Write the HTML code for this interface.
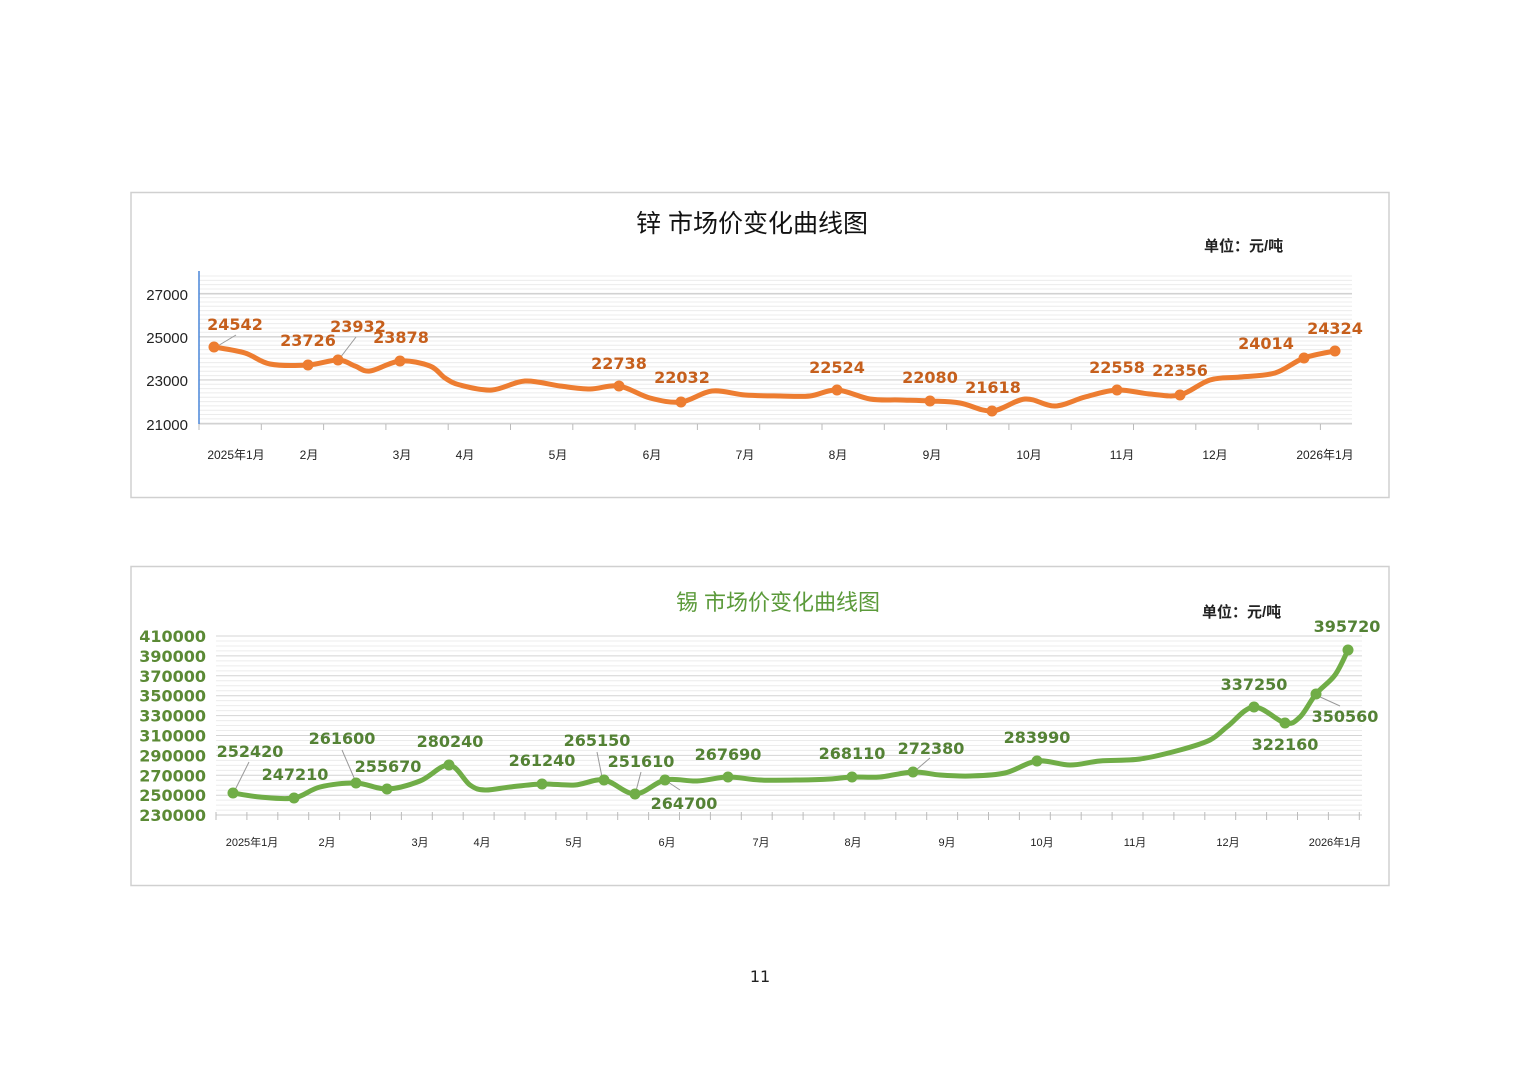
<!DOCTYPE html>
<html><head><meta charset="utf-8"><style>
html,body{margin:0;padding:0;background:#fff;}
svg text{font-family:"Liberation Sans","Noto Sans CJK SC",sans-serif;}
svg text.d{font-family:"DejaVu Sans","Liberation Sans",sans-serif;}
</style></head><body>
<svg id="s" width="1520" height="1074" xmlns="http://www.w3.org/2000/svg">
<rect x="131" y="192.5" width="1258" height="305" fill="#fff" stroke="#d0d0d0" stroke-width="1.5"/>
<rect x="131" y="566.5" width="1258" height="319" fill="#fff" stroke="#d0d0d0" stroke-width="1.5"/>
<g id="g1"></g><g id="g2"></g>
<text x="752" y="232" font-size="25" text-anchor="middle" fill="#111">锌 市场价变化曲线图</text>
<text x="1204" y="251" font-size="15" font-weight="bold" fill="#222">单位：元/吨</text>
<text x="778" y="610" font-size="22" text-anchor="middle" fill="#5b9a3a">锡 市场价变化曲线图</text>
<text x="1202" y="617" font-size="15" font-weight="bold" fill="#222">单位：元/吨</text>
<text x="760" y="982" font-size="16" text-anchor="middle" fill="#222" class="d">11</text>
</svg>
<script>
const NS="http://www.w3.org/2000/svg";
function el(p,t,a,txt){const e=document.createElementNS(NS,t);for(const k in a)e.setAttribute(k,a[k]);if(txt!==undefined)e.textContent=txt;p.appendChild(e);return e;}
function smooth(pts){let d="M"+pts[0][0]+","+pts[0][1];for(let i=0;i<pts.length-1;i++){const p0=pts[i-1]||pts[i],p1=pts[i],p2=pts[i+1],p3=pts[i+2]||p2;const c1=[p1[0]+(p2[0]-p0[0])/6,p1[1]+(p2[1]-p0[1])/6],c2=[p2[0]-(p3[0]-p1[0])/6,p2[1]-(p3[1]-p1[1])/6];d+=" C"+c1+" "+c2+" "+p2;}return d;}
const g1=document.getElementById("g1");
for(let y=276;y<=424;y+=4.33){const maj=[294,337,380,424].some(v=>Math.abs(v-y)<2);el(g1,"line",{x1:199,x2:1352,y1:y,y2:y,stroke:maj?"#d4d4d4":"#ececec","stroke-width":1});}
[[294,"27000"],[337,"25000"],[380,"23000"],[424,"21000"]].forEach(([y,t])=>{el(g1,"line",{x1:199,x2:1352,y1:y,y2:y,stroke:"#d0d0d0"});el(g1,"text",{x:188,y:y+6,"font-size":15,"text-anchor":"end",fill:"#222"},t);});
el(g1,"line",{x1:199,x2:199,y1:271,y2:424,stroke:"#4a86d8","stroke-width":1.5});
for(let x=199;x<=1352;x+=62.3)el(g1,"line",{x1:x,x2:x,y1:424,y2:430,stroke:"#bbb"});
[["2025年1月",236],["2月",309],["3月",402],["4月",465],["5月",558],["6月",652],["7月",745],["8月",838],["9月",932],["10月",1029],["11月",1122],["12月",1215],["2026年1月",1325]].forEach(([t,x])=>el(g1,"text",{x:x,y:459,"font-size":12,"text-anchor":"middle",fill:"#222"},t));
const z=[[214,347],[245,353],[270,364],[308,365],[338,360],[355,366],[370,371],[400,361],[430,366],[445,378],[460,385],[492,390],[525,381],[560,386],[590,389],[619,386],[650,398],[681,402],[712,391],[745,395],[780,396],[810,396],[837,390],[870,399],[900,400],[930,401],[960,403],[992,411],[1025,399],[1055,406],[1085,397],[1117,390],[1150,394],[1180,395],[1210,380],[1240,377],[1275,373],[1304,358],[1335,351]];
el(g1,"line",{x1:216,y1:347,x2:236,y2:335,stroke:"#999"});el(g1,"line",{x1:340,y1:358,x2:356,y2:337,stroke:"#999"});
el(g1,"path",{d:smooth(z),fill:"none",stroke:"#ED7D31","stroke-width":5,"stroke-linejoin":"round"});
[[214,347],[308,365],[338,360],[400,361],[619,386],[681,402],[837,390],[930,401],[992,411],[1117,390],[1180,395],[1304,358],[1335,351]].forEach(([x,y])=>el(g1,"circle",{cx:x,cy:y,r:5.5,fill:"#ED7D31"}));
[["24542",235,330],["23726",308,346],["23932",358,332],["23878",401,343],["22738",619,369],["22032",682,383],["22524",837,373],["22080",930,383],["21618",993,393],["22558",1117,373],["22356",1180,376],["24014",1266,349],["24324",1335,334]].forEach(([t,x,y])=>el(g1,"text",{x:x,y:y,"font-size":16,"font-weight":"bold","text-anchor":"middle",fill:"#C65F1C","class":"d"},t));
const g2=document.getElementById("g2");
for(let y=636;y<=815;y+=4.975){const maj=Math.abs(((y-636)/19.9)-Math.round((y-636)/19.9))<0.05;el(g2,"line",{x1:216,x2:1362,y1:y,y2:y,stroke:maj?"#d4d4d4":"#ececec"});}
for(let i=0;i<10;i++){const y=636+i*19.9;el(g2,"text",{x:206,y:y+6,"font-size":16,"font-weight":"bold","text-anchor":"end",fill:"#5b8a35","class":"d"},String(410000-i*20000));}
el(g2,"line",{x1:216,x2:1362,y1:815,y2:815,stroke:"#ccc"});
for(let x=216;x<=1362;x+=30.9)el(g2,"line",{x1:x,x2:x,y1:812,y2:820,stroke:"#bbb"});
[["2025年1月",252],["2月",327],["3月",420],["4月",482],["5月",574],["6月",667],["7月",761],["8月",853],["9月",947],["10月",1042],["11月",1135],["12月",1228],["2026年1月",1335]].forEach(([t,x])=>el(g2,"text",{x:x,y:846,"font-size":11,"text-anchor":"middle",fill:"#222"},t));
const s=[[233,793],[260,797],[294,798],[320,787],[356,783],[387,789],[420,781],[449,765],[470,785],[485,790],[510,787],[542,784],[575,785],[604,780],[635,794],[665,780],[697,781],[728,777],[760,780],[800,780],[830,779],[852,777],[880,777],[913,772],[940,775],[970,776],[1005,773],[1037,761],[1070,765],[1100,761],[1140,759],[1180,750],[1210,740],[1228,726],[1254,707],[1285,723],[1300,717],[1316,694],[1335,675],[1348,650]];
[[235,790,249,762],[355,780,342,750],[602,777,597,752],[636,791,641,772],[668,782,680,790],[916,770,930,758],[1318,696,1340,706]].forEach(a=>el(g2,"line",{x1:a[0],y1:a[1],x2:a[2],y2:a[3],stroke:"#999"}));
el(g2,"path",{d:smooth(s),fill:"none",stroke:"#70AD47","stroke-width":5,"stroke-linejoin":"round"});
[[233,793],[294,798],[356,783],[387,789],[449,765],[542,784],[604,780],[635,794],[665,780],[728,777],[852,777],[913,772],[1037,761],[1254,707],[1285,723],[1316,694],[1348,650]].forEach(([x,y])=>el(g2,"circle",{cx:x,cy:y,r:5.5,fill:"#70AD47"}));
[["252420",250,757],["247210",295,780],["261600",342,744],["255670",388,772],["280240",450,747],["261240",542,766],["265150",597,746],["251610",641,767],["264700",684,809],["267690",728,760],["268110",852,759],["272380",931,754],["283990",1037,743],["337250",1254,690],["322160",1285,750],["350560",1345,722],["395720",1347,632]].forEach(([t,x,y])=>el(g2,"text",{x:x,y:y,"font-size":16,"font-weight":"bold","text-anchor":"middle",fill:"#548235","class":"d"},t));
</script>
</body></html>
